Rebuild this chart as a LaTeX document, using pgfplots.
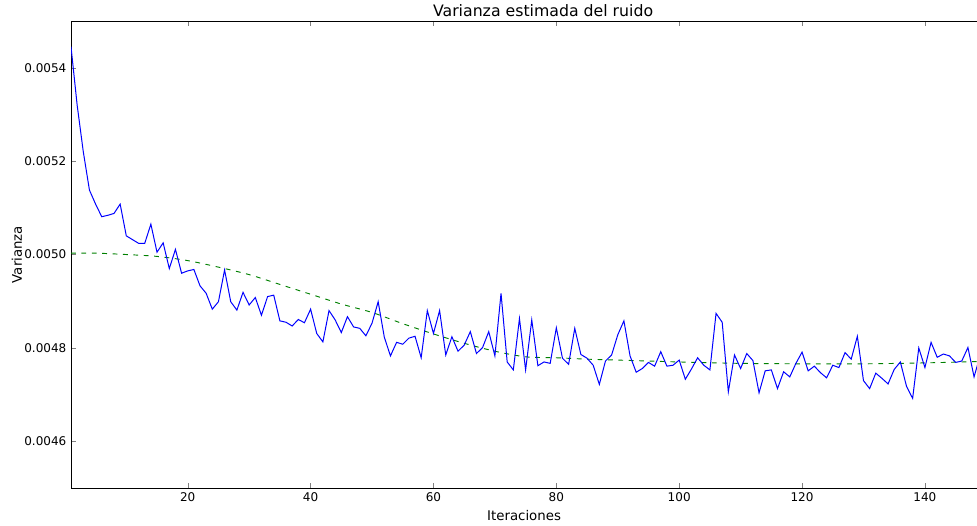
\documentclass[border=0pt]{standalone}
\usepackage{pgfplots}
\pgfplotsset{compat=1.18}
\usepackage{pgfplotstable}
\usepackage{fontspec}
\setmainfont{DejaVu Sans}

\definecolor{mplblue}{rgb}{0,0,1}
\definecolor{mplgreen}{rgb}{0,0.5,0}

% varianza estimada por iteracion
\pgfplotstableread{
x y
1 0.005445
2 0.005320
3 0.005220
4 0.005138
5 0.005108
6 0.005081
7 0.005084
8 0.005088
9 0.005108
10 0.005040
11 0.005032
12 0.005024
13 0.005024
14 0.005065
15 0.005005
16 0.005025
17 0.004970
18 0.005011
19 0.004960
20 0.004965
21 0.004968
22 0.004933
23 0.004917
24 0.004883
25 0.004899
26 0.004967
27 0.004899
28 0.004881
29 0.004919
30 0.004892
31 0.004908
32 0.004870
33 0.004910
34 0.004913
35 0.004858
36 0.004855
37 0.004847
38 0.004861
39 0.004854
40 0.004883
41 0.004831
42 0.004813
43 0.004880
44 0.004860
45 0.004833
46 0.004867
47 0.004845
48 0.004842
49 0.004826
50 0.004853
51 0.004899
52 0.004823
53 0.004783
54 0.004812
55 0.004808
56 0.004821
57 0.004825
58 0.004779
59 0.004880
60 0.004831
61 0.004880
62 0.004785
63 0.004824
64 0.004793
65 0.004806
66 0.004835
67 0.004788
68 0.004801
69 0.004835
70 0.004783
71 0.004917
72 0.004770
73 0.004753
74 0.004863
75 0.004753
76 0.004860
77 0.004762
78 0.004770
79 0.004767
80 0.004843
81 0.004778
82 0.004765
83 0.004842
84 0.004786
85 0.004778
86 0.004763
87 0.004722
88 0.004772
89 0.004785
90 0.004828
91 0.004858
92 0.004783
93 0.004748
94 0.004756
95 0.004769
96 0.004761
97 0.004792
98 0.004761
99 0.004763
100 0.004774
101 0.004733
102 0.004755
103 0.004779
104 0.004763
105 0.004753
106 0.004874
107 0.004855
108 0.004706
109 0.004785
110 0.004756
111 0.004788
112 0.004773
113 0.004704
114 0.004751
115 0.004753
116 0.004713
117 0.004749
118 0.004738
119 0.004767
120 0.004791
121 0.004751
122 0.004761
123 0.004747
124 0.004736
125 0.004763
126 0.004758
127 0.004790
128 0.004776
129 0.004825
130 0.004730
131 0.004713
132 0.004746
133 0.004735
134 0.004723
135 0.004754
136 0.004770
137 0.004718
138 0.004692
139 0.004800
140 0.004758
141 0.004812
142 0.004780
143 0.004787
144 0.004783
145 0.004769
146 0.004772
147 0.004801
148 0.004738
149 0.004784
}\ruido

% curva ajustada
\pgfplotstableread{
x y
1 0.005003
5 0.005003
10 0.005000
15 0.004996
20 0.004987
25 0.004973
30 0.004957
35 0.004936
40 0.004915
45 0.004894
50 0.004876
55 0.004852
60 0.004830
65 0.004810
70 0.004793
75 0.004781
80 0.004779
85 0.004776
90 0.004774
95 0.004772
100 0.004770
110 0.004767
120 0.004766
130 0.004766
140 0.004768
149 0.004771
}\ajuste

\begin{document}
\begin{tikzpicture}
\begin{axis}[
  scale only axis,
  width=679.5pt, height=350.25pt,
  xmin=1, xmax=148.5,
  ymin=0.0045, ymax=0.0055,
  axis y line*=left,
  axis x line*=box,
  tick align=inside,
  major tick length=3.5pt,
  xtick={20,40,60,80,100,120,140},
  ytick={0.0046,0.0048,0.0050,0.0052,0.0054},
  scaled y ticks=false,
  yticklabel style={/pgf/number format/.cd, fixed, fixed zerofill, precision=4},
  /pgf/number format/assume math mode=true,
  tick label style={font=\fontsize{9}{11}\selectfont},
  label style={font=\fontsize{9}{11}\selectfont},
  xlabel={Iteraciones},
  ylabel={Varianza},
  every axis x label/.style={at={(rel axis cs:0.5,0)}, anchor=center, yshift=-20.5pt},
  every axis y label/.style={at={(rel axis cs:0,0.5)}, anchor=center, rotate=90, yshift=40.5pt},
  title={Varianza estimada del ruido},
  title style={at={(rel axis cs:0.521,1)}, anchor=south, font=\fontsize{11.8}{13}\selectfont, yshift=-6pt},
  axis line style={line width=0.6pt},
]
\addplot[mplgreen, line width=0.7pt, dash pattern=on 3.6pt off 4.2pt, smooth] table[x=x, y=y] {\ajuste};
\addplot[mplblue, line width=0.75pt] table[x=x, y=y] {\ruido};
\coordinate (sw) at (rel axis cs:0,0);
\coordinate (ne) at (rel axis cs:1,1);
\end{axis}
\pgfresetboundingbox
\path[use as bounding box] ([shift={(-53.25pt,-27.75pt)}]sw) rectangle ([shift={(-0.1pt,15.75pt)}]ne);
\end{tikzpicture}
\end{document}
